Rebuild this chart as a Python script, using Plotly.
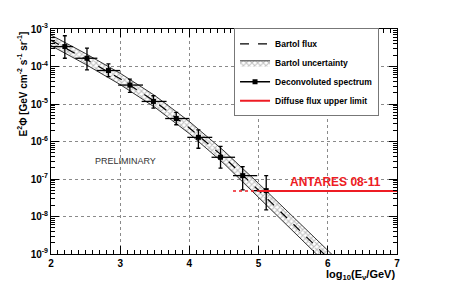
import plotly.graph_objects as go

# ---------------- data ----------------
# Bartol atmospheric flux (E^2 Phi) vs log10(E/GeV)
bartol_x = [2.0, 2.5, 3.0, 3.5, 4.0, 4.5, 5.0, 5.5, 6.0, 6.5]
bartol_y = [5.0e-4, 1.58e-4, 4.7e-5, 1.17e-5, 2.3e-6, 3.8e-7, 5.0e-8, 6.3e-9, 7.9e-10, 1.0e-10]
bartol_hi = [6.9e-4, 2.21e-4, 6.6e-5, 1.68e-5, 3.4e-6, 5.6e-7, 7.6e-8, 9.8e-9, 1.26e-9, 1.6e-10]
bartol_lo = [3.6e-4, 1.14e-4, 3.3e-5, 8.2e-6, 1.62e-6, 2.57e-7, 3.3e-8, 4.1e-9, 5.0e-10, 6.3e-11]

# Deconvoluted spectrum
spec_x = [2.20, 2.52, 2.83, 3.14, 3.48, 3.81, 4.13, 4.45, 4.77, 5.11]
spec_x_lo = [2.00, 2.35, 2.66, 2.97, 3.31, 3.65, 3.97, 4.32, 4.63, 4.93]
spec_x_hi = [2.32, 2.67, 3.00, 3.33, 3.67, 4.00, 4.33, 4.66, 4.98, 5.33]
spec_y = [3.4e-4, 1.66e-4, 7.8e-5, 3.2e-5, 1.17e-5, 4.1e-6, 1.29e-6, 3.8e-7, 1.23e-7, 4.9e-8]
spec_y_hi = [6.6e-4, 3.1e-4, 1.17e-4, 4.6e-5, 1.66e-5, 6.0e-6, 2.04e-6, 7.4e-7, 2.14e-7, 1.23e-7]
spec_y_lo = [1.66e-4, 8.1e-5, 5.4e-5, 2.04e-5, 7.8e-6, 2.8e-6, 6.6e-7, 1.95e-7, 5.1e-8, 1.51e-8]

# Diffuse flux upper limit (ANTARES 08-11)
limit_x = [5.0, 7.0]
limit_dotted_x = [4.63, 5.0]
limit_y = 4.8e-8

# axis ticks
x_tickvals = [2, 3, 4, 5, 6, 7]
x_ticktext = ["2", "3", "4", "5", "6", "7"]
y_tickvals = [1e-9, 1e-8, 1e-7, 1e-6, 1e-5, 1e-4, 1e-3]
y_ticktext = ["10<sup>-9</sup>", "10<sup>-8</sup>", "10<sup>-7</sup>", "10<sup>-6</sup>",
              "10<sup>-5</sup>", "10<sup>-4</sup>", "10<sup>-3</sup>"]

# ---------------- figure ----------------
FONT = "Liberation Sans, Arial, Helvetica, sans-serif"
fig = go.Figure()

# Bartol flux (dashed)
fig.add_trace(go.Scatter(
    x=bartol_x, y=bartol_y, mode="lines", name="Bartol flux",
    line=dict(color="black", width=1.2, dash="dash"), hoverinfo="skip"))

# Bartol uncertainty band
fig.add_trace(go.Scatter(
    x=bartol_x + bartol_x[::-1], y=bartol_hi + bartol_lo[::-1],
    mode="lines", fill="toself", name="Bartol uncertainty",
    line=dict(color="#333333", width=1),
    fillcolor="rgba(255,255,255,0)",
    fillpattern=dict(shape="x", fgcolor="#808080", bgcolor="white", size=4, solidity=0.45),
    hoverinfo="skip"))

# redraw dashed line on top of band (no legend)
fig.add_trace(go.Scatter(
    x=bartol_x, y=bartol_y, mode="lines", showlegend=False,
    line=dict(color="black", width=1.2, dash="dash"), hoverinfo="skip"))

# Deconvoluted spectrum
fig.add_trace(go.Scatter(
    x=spec_x, y=spec_y, mode="markers", showlegend=False,
    marker=dict(symbol="square", size=5, color="black"),
    error_x=dict(type="data", symmetric=False,
                 array=[h - c for h, c in zip(spec_x_hi, spec_x)],
                 arrayminus=[c - l for c, l in zip(spec_x, spec_x_lo)],
                 color="black", thickness=1.3, width=0),
    error_y=dict(type="data", symmetric=False,
                 array=[h - c for h, c in zip(spec_y_hi, spec_y)],
                 arrayminus=[c - l for c, l in zip(spec_y, spec_y_lo)],
                 color="black", thickness=1.3, width=2),
    hoverinfo="skip"))
fig.add_trace(go.Scatter(
    x=[None], y=[None], mode="lines+markers", name="Deconvoluted spectrum",
    marker=dict(symbol="square", size=5, color="black"),
    line=dict(color="black", width=1.5)))

# Upper limit
fig.add_trace(go.Scatter(
    x=limit_dotted_x, y=[limit_y] * len(limit_dotted_x), mode="lines", showlegend=False,
    line=dict(color="#ee1c24", width=1.5, dash="dot"), hoverinfo="skip"))
fig.add_trace(go.Scatter(
    x=limit_x, y=[limit_y] * len(limit_x), mode="lines", name="Diffuse flux upper limit",
    line=dict(color="#ee1c24", width=2), hoverinfo="skip"))

fig.add_annotation(x=6.8, y=-7.09, xref="x", yref="y", text="<b>ANTARES 08-11</b>",
                   showarrow=False, xanchor="right", yanchor="middle",
                   font=dict(family=FONT, size=12, color="#ee1c24"))
fig.add_annotation(x=2.6, y=-6.52, xref="x", yref="y", text="PRELIMINARY",
                   showarrow=False, xanchor="left", yanchor="middle",
                   font=dict(family=FONT, size=9, color="#333333"))

# axis titles
fig.add_annotation(x=1.0, y=-0.092, xref="paper", yref="paper",
                   text="<b>log<sub>10</sub>(E<sub>ν</sub>/GeV)</b>", showarrow=False,
                   xanchor="right", yanchor="middle",
                   font=dict(family=FONT, size=11, color="black"))
fig.add_annotation(x=-0.084, y=1.0, xref="paper", yref="paper",
                   text="<b>E<sup>2</sup>Φ [GeV cm<sup>-2</sup> s<sup>-1</sup> sr<sup>-1</sup>]</b>",
                   showarrow=False, textangle=-90, xanchor="center", yanchor="top",
                   font=dict(family=FONT, size=10, color="black"))

# the page body adds an 8px offset; size the figure to compensate
fig.update_layout(
    width=455, height=282,
    margin=dict(l=43, r=66, t=21, b=36),
    paper_bgcolor="white", plot_bgcolor="white",
    showlegend=True,
    legend=dict(x=0.529, y=1.003, xanchor="left", yanchor="top",
                bgcolor="white", bordercolor="#777777", borderwidth=1,
                font=dict(family=FONT, size=8.5, color="black", weight="bold"),
                traceorder="normal", tracegroupgap=0),
    font=dict(family=FONT),
)

fig.update_xaxes(
    range=[2, 7], tickvals=x_tickvals, ticktext=x_ticktext,
    showline=True, linecolor="black", linewidth=1, mirror="allticks",
    ticks="inside", ticklen=8, tickcolor="black",
    minor=dict(dtick=0.1, ticks="inside", ticklen=4, tickcolor="black", showgrid=False),
    showgrid=True, gridcolor="#8a8a8a", griddash="dot", gridwidth=1,
    zeroline=False,
    tickfont=dict(family=FONT, size=10, color="black", weight="bold"),
)
fig.update_yaxes(
    type="log", range=[-9, -3], tickvals=y_tickvals, ticktext=y_ticktext,
    showline=True, linecolor="black", linewidth=1, mirror="allticks",
    ticks="inside", ticklen=8, tickcolor="black",
    minor=dict(tickvals=[m * 10.0 ** e for e in range(-9, -3) for m in range(2, 10)],
               ticks="inside", ticklen=4, tickcolor="black", showgrid=False),
    showgrid=True, gridcolor="#8a8a8a", griddash="dot", gridwidth=1,
    zeroline=False,
    tickfont=dict(family=FONT, size=10, color="black", weight="bold"),
)

fig.write_html("out.html")
